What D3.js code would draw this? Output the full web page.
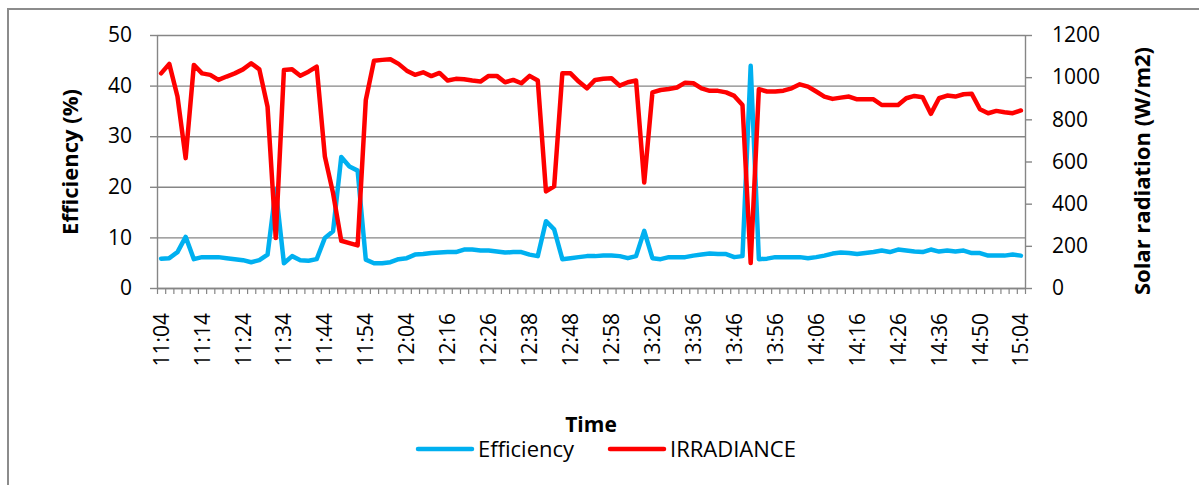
<!DOCTYPE html>
<html>
<head>
<meta charset="utf-8">
<script src="https://cdn.jsdelivr.net/npm/d3@7"></script>
<style>
  html, body { margin: 0; padding: 0; background: #fff; }
  svg { display: block; font-family: "Open Sans", "Noto Sans", sans-serif; }
</style>
</head>
<body>
<svg id="chart" width="1199" height="485"></svg>
<script>
const times = [
  "11:04","11:06","11:08","11:10","11:12","11:14","11:16","11:18","11:20","11:22",
  "11:24","11:26","11:28","11:30","11:32","11:34","11:36","11:38","11:40","11:42",
  "11:44","11:46","11:48","11:50","11:52","11:54","11:56","11:58","12:00","12:02",
  "12:04","12:06","12:08","12:12","12:14","12:16","12:18","12:20","12:22","12:24",
  "12:26","12:28","12:30","12:32","12:36","12:38","12:40","12:42","12:44","12:46",
  "12:48","12:50","12:52","12:54","12:56","12:58","13:02","13:08","13:14","13:20",
  "13:26","13:28","13:30","13:32","13:34","13:36","13:38","13:40","13:42","13:44",
  "13:46","13:48","13:50","13:52","13:54","13:56","13:58","14:00","14:02","14:04",
  "14:06","14:08","14:10","14:12","14:14","14:16","14:18","14:20","14:22","14:24",
  "14:26","14:28","14:30","14:32","14:34","14:36","14:38","14:42","14:44","14:48",
  "14:50","14:52","14:56","14:58","15:02","15:04"
];

const efficiency = [
  5.8,5.9,7.1,10.1,5.7,6.1,6.1,6.1,5.9,5.7,
  5.5,5.1,5.5,6.6,19.5,4.9,6.3,5.5,5.4,5.7,
  9.9,11.2,25.9,24.0,23.2,5.6,4.9,4.9,5.1,5.7,
  5.9,6.6,6.7,6.9,7.0,7.1,7.1,7.6,7.6,7.4,
  7.4,7.2,7.0,7.1,7.1,6.6,6.3,13.2,11.6,5.7,
  5.9,6.1,6.3,6.3,6.4,6.4,6.3,5.9,6.3,11.3,
  5.9,5.7,6.1,6.1,6.1,6.4,6.6,6.8,6.7,6.7,
  6.1,6.3,43.9,5.7,5.8,6.1,6.1,6.1,6.1,5.9,
  6.1,6.4,6.8,7.0,6.9,6.7,6.9,7.1,7.4,7.1,
  7.6,7.4,7.2,7.1,7.6,7.2,7.4,7.2,7.4,6.9,
  6.9,6.4,6.4,6.4,6.6,6.4
];

const irradiance = [
  1018,1063,908,616,1058,1018,1011,987,1003,1018,
  1037,1066,1037,860,237,1034,1037,1007,1026,1050,
  624,450,224,213,202,892,1078,1082,1085,1063,
  1031,1011,1023,1005,1020,984,992,990,984,979,
  1006,1006,976,987,971,1006,984,458,482,1018,
  1018,979,947,987,992,995,960,976,984,500,
  928,939,944,951,974,971,947,935,935,928,
  911,868,118,943,932,932,936,947,966,955,
  932,908,897,903,908,895,895,895,868,868,
  868,900,911,905,826,900,913,908,919,921,
  848,829,840,834,829,842
];

const effTicks = [0,10,20,30,40,50];
const irrTicks = [0,200,400,600,800,1000,1200];
const seriesNames = ["Efficiency","IRRADIANCE"];
const seriesColors = ["#00B0F0","#FF0000"];

const L = 157, R = 1025, T = 35, B = 288;
const gridColor = "#868686";
const svg = d3.select("#chart");

// outer chart border
svg.append("rect").attr("x", 8).attr("y", 9).attr("width", 1230).attr("height", 520)
  .attr("fill", "none").attr("stroke", "#8c8c8c").attr("stroke-width", 2);

const x = d3.scaleBand().domain(times).range([L, R]).padding(0);
const xIdx = d3.scaleLinear().domain([0, times.length]).range([L, R]);
const yL = d3.scaleLinear().domain([0, 50]).range([B, T]);
const yR = d3.scaleLinear().domain([0, 1200]).range([B, T]);
const cx = d => x(d) + x.bandwidth() / 2;

// gridlines
svg.append("g").attr("transform", `translate(${L},0)`)
  .call(d3.axisLeft(yL).tickValues(effTicks).tickSize(-(R - L)).tickFormat(""))
  .call(g => g.select(".domain").remove())
  .call(g => g.selectAll("line").attr("stroke", gridColor).attr("stroke-width", 1.4));

// left axis
const gl = svg.append("g").attr("transform", `translate(${L},0)`)
  .call(d3.axisLeft(yL).tickValues(effTicks).tickSize(7).tickPadding(18).tickSizeOuter(0).tickFormat(d3.format("d")));
gl.select(".domain").attr("stroke", gridColor).attr("stroke-width", 1.4);
gl.selectAll("line").attr("stroke", gridColor).attr("stroke-width", 1.4);
gl.selectAll("text").attr("font-size", 21).attr("fill", "#000").attr("font-family", "Open Sans");

// right axis
const gr = svg.append("g").attr("transform", `translate(${R},0)`)
  .call(d3.axisRight(yR).tickValues(irrTicks).tickSize(7).tickPadding(20).tickSizeOuter(0).tickFormat(d3.format("d")));
gr.select(".domain").attr("stroke", gridColor).attr("stroke-width", 1.4);
gr.selectAll("line").attr("stroke", gridColor).attr("stroke-width", 1.4);
gr.selectAll("text").attr("font-size", 21).attr("fill", "#000").attr("font-family", "Open Sans");

// bottom minor ticks at category boundaries
const gb = svg.append("g").attr("transform", `translate(0,${B})`)
  .call(d3.axisBottom(xIdx).tickValues(d3.range(times.length + 1)).tickSize(6).tickFormat("").tickSizeOuter(0));
gb.select(".domain").attr("stroke", gridColor).attr("stroke-width", 1.4);
gb.selectAll("line").attr("stroke", gridColor).attr("stroke-width", 1.2);

// bottom labels every 5th category
const labelVals = times.filter((d, i) => i % 5 === 0);
const gx = svg.append("g").attr("transform", `translate(0,${B})`)
  .call(d3.axisBottom(x).tickValues(labelVals).tickSize(0).tickSizeOuter(0));
gx.select(".domain").remove();
gx.selectAll("text")
  .attr("font-size", 21).attr("fill", "#000").attr("font-family", "Open Sans")
  .attr("transform", "rotate(-90)")
  .attr("text-anchor", "end")
  .attr("x", -25).attr("y", 0).attr("dy", "0.36em");

// lines
const lineEff = d3.line().x((d, i) => cx(times[i])).y(d => yL(d));
const lineIrr = d3.line().x((d, i) => cx(times[i])).y(d => yR(d));
svg.append("path").datum(efficiency).attr("d", lineEff)
  .attr("fill", "none").attr("stroke", seriesColors[0]).attr("stroke-width", 4.5)
  .attr("stroke-linejoin", "round").attr("stroke-linecap", "round");
svg.append("path").datum(irradiance).attr("d", lineIrr)
  .attr("fill", "none").attr("stroke", seriesColors[1]).attr("stroke-width", 4.5)
  .attr("stroke-linejoin", "round").attr("stroke-linecap", "round");

// axis titles
svg.append("text").attr("transform", "translate(70,162) rotate(-90)")
  .attr("text-anchor", "middle").attr("dy", "0.35em")
  .attr("font-size", 22).attr("font-weight", "bold").text("Efficiency (%)");
svg.append("text").attr("transform", "translate(1142,171) rotate(-90)")
  .attr("text-anchor", "middle").attr("dy", "0.35em")
  .attr("font-size", 22).attr("font-weight", "bold").text("Solar radiation (W/m2)");
svg.append("text").attr("x", 591).attr("y", 425).attr("dy", "0.35em")
  .attr("text-anchor", "middle").attr("font-size", 21).attr("font-weight", "bold").text("Time");

// legend
const legendX = [418, 610];
seriesNames.forEach((name, i) => {
  const g = svg.append("g").attr("transform", `translate(${legendX[i]},449)`);
  g.append("line").attr("x1", 0).attr("x2", 54).attr("y1", 0).attr("y2", 0)
    .attr("stroke", seriesColors[i]).attr("stroke-width", 4.5).attr("stroke-linecap", "round");
  g.append("text").attr("x", 60).attr("dy", "0.35em").attr("font-size", 22).text(name);
});
</script>
</body>
</html>
